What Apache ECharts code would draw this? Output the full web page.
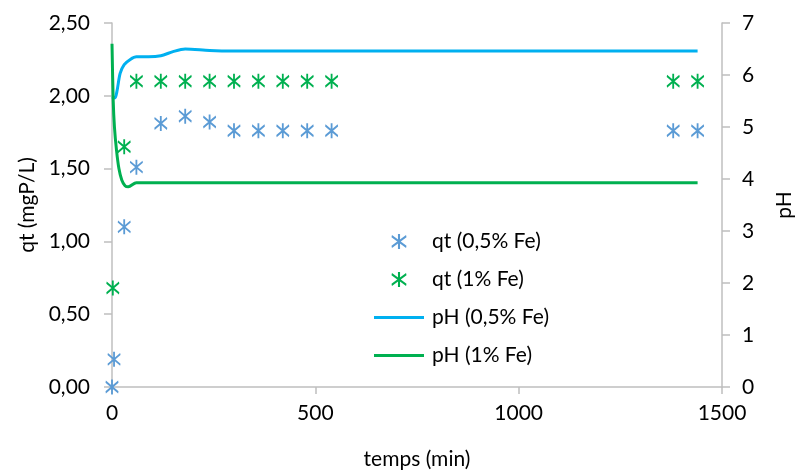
<!DOCTYPE html>
<html>
<head>
<meta charset="utf-8">
<script src="https://cdn.jsdelivr.net/npm/echarts@6/dist/echarts.min.js"></script>
<style>html,body{margin:0;padding:0;background:#fff}#c{width:803px;height:476px}</style>
</head>
<body>
<div id="c"></div>
<script>
// qt data (time min, qt mgP/L)
const qtTime05 = [0, 5, 30, 60, 120, 180, 240, 300, 360, 420, 480, 540, 1380, 1440];
const qtVal05  = [0.00, 0.19, 1.10, 1.51, 1.81, 1.86, 1.82, 1.76, 1.76, 1.76, 1.76, 1.76, 1.76, 1.76];
const qtTime1  = [2, 30, 60, 120, 180, 240, 300, 360, 420, 480, 540, 1380, 1440];
const qtVal1   = [0.68, 1.65, 2.10, 2.10, 2.10, 2.10, 2.10, 2.10, 2.10, 2.10, 2.10, 2.10, 2.10];
// pH curves
const phTime05 = [0, 7, 12, 20, 30, 45, 60, 90, 120, 150, 180, 240, 300, 600, 1440];
const phVal05  = [5.58, 5.56, 5.68, 6.03, 6.20, 6.30, 6.35, 6.35, 6.37, 6.45, 6.50, 6.47, 6.46, 6.46, 6.46];
const phTime1  = [0, 3, 6, 11, 17, 24, 32, 40, 60, 120, 600, 1440];
const phVal1   = [6.60, 5.50, 5.00, 4.56, 4.20, 3.98, 3.87, 3.85, 3.93, 3.93, 3.93, 3.93];
const xTicks = [0, 500, 1000, 1500];
const names = ['qt (0,5% Fe)', 'qt (1% Fe)', 'pH (0,5% Fe)', 'pH (1% Fe)'];

const zip = (a, b) => a.map((v, i) => [v, b[i]]);
const star = 'path://M43 0L57 0L57 100L43 100Z M3 7L100 79L97 93L0 21Z M0 79L97 7L100 21L3 93Z';
const lineIcon = 'path://M0 0L0.1 0L0 0.1Z M0 12L100 12L100 18L0 18Z M100 30L99.9 30L100 29.9Z';
const FONT = 'Lato';
const axisGrey = '#BFBFBF';

const chart = echarts.init(document.getElementById('c'), null, {renderer: 'canvas'});
chart.setOption({
  animation: false,
  backgroundColor: '#fff',
  textStyle: {fontFamily: FONT},
  grid: {left: 112, right: 76, top: 23, bottom: 89},
  legend: {
    orient: 'vertical', left: 374, top: 231, itemGap: 17,
    itemWidth: 50, itemHeight: 15, padding: 0,
    data: [
      {name: names[0]}, {name: names[1]},
      {name: names[2], icon: lineIcon}, {name: names[3], icon: lineIcon}
    ],
    textStyle: {fontFamily: FONT, fontSize: 21, color: '#000', padding: [0, 0, 0, 3]}
  },
  xAxis: {
    type: 'value', min: 0, max: 1500, interval: 500,
    name: 'temps (min)', nameLocation: 'middle', nameGap: 62,
    nameTextStyle: {fontFamily: FONT, fontSize: 21, color: '#000'},
    axisLine: {show: true, lineStyle: {color: axisGrey, width: 1.5}},
    axisTick: {show: true, length: 7, lineStyle: {color: axisGrey, width: 1.5}},
    axisLabel: {fontFamily: FONT, fontSize: 21, color: '#000', margin: 16,
      formatter: v => xTicks.includes(v) ? String(v) : ''},
    splitLine: {show: false}
  },
  yAxis: [{
    type: 'value', min: 0, max: 2.5, interval: 0.5, position: 'left',
    name: 'qt (mgP/L)', nameLocation: 'middle', nameGap: 74, nameRotate: 90,
    nameTextStyle: {fontFamily: FONT, fontSize: 21, color: '#000'},
    axisLine: {show: true, lineStyle: {color: axisGrey, width: 1.5}},
    axisTick: {show: true, length: 8, lineStyle: {color: axisGrey, width: 1.5}},
    axisLabel: {fontFamily: FONT, fontSize: 21, color: '#000', margin: 22,
      formatter: v => v.toFixed(2).replace('.', ',')},
    splitLine: {show: false}
  }, {
    type: 'value', min: 0, max: 7, interval: 1, position: 'right',
    name: 'pH', nameLocation: 'middle', nameGap: 52, nameRotate: 90,
    nameTextStyle: {fontFamily: FONT, fontSize: 21, color: '#000'},
    axisLine: {show: true, lineStyle: {color: axisGrey, width: 1.5}},
    axisTick: {show: true, length: 8, lineStyle: {color: axisGrey, width: 1.5}},
    axisLabel: {fontFamily: FONT, fontSize: 21, color: '#000', margin: 20},
    splitLine: {show: false}
  }],
  series: [{
    name: names[0], type: 'scatter', yAxisIndex: 0, data: zip(qtTime05, qtVal05),
    symbol: star, symbolSize: [13, 15], itemStyle: {color: '#5B9BD5', opacity: 1}, z: 5
  }, {
    name: names[1], type: 'scatter', yAxisIndex: 0, data: zip(qtTime1, qtVal1),
    symbol: star, symbolSize: [13, 15], itemStyle: {color: '#00B050', opacity: 1}, z: 5
  }, {
    name: names[2], type: 'line', yAxisIndex: 1, data: zip(phTime05, phVal05),
    smooth: 0.3, symbol: 'none', lineStyle: {color: '#00B0F0', width: 3}, itemStyle: {color: '#00B0F0'}
  }, {
    name: names[3], type: 'line', yAxisIndex: 1, data: zip(phTime1, phVal1),
    smooth: 0.3, symbol: 'none', lineStyle: {color: '#00B050', width: 3}, itemStyle: {color: '#00B050'}
  }]
});
</script>
</body>
</html>
